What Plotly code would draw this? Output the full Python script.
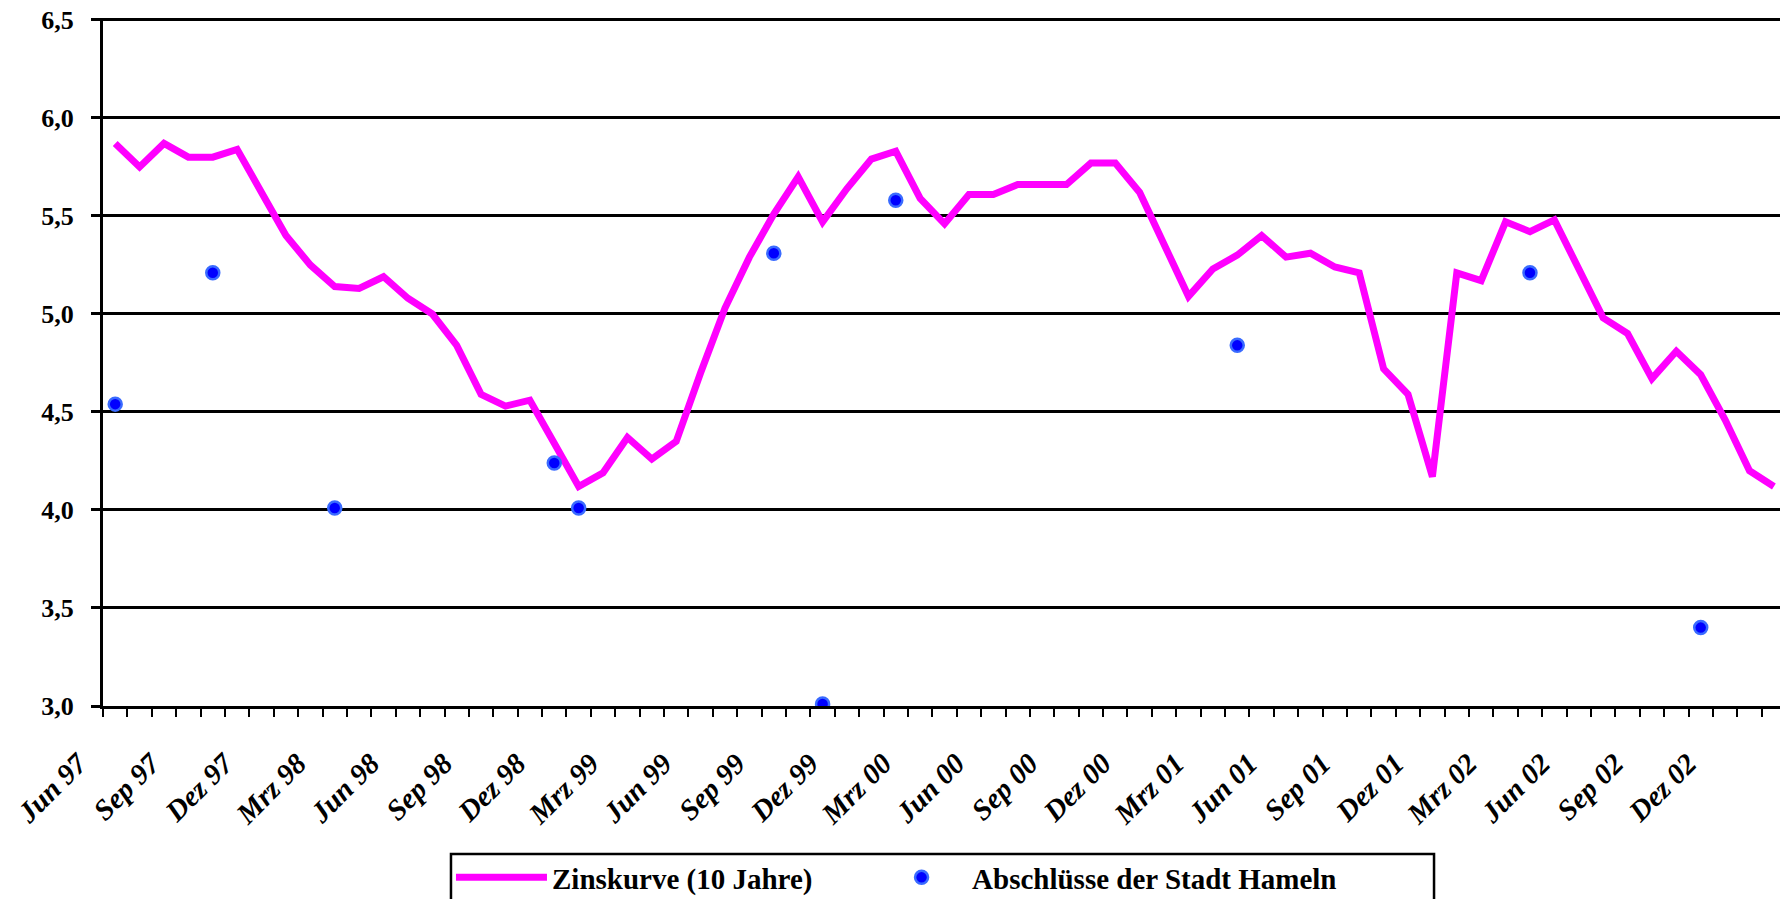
import plotly.graph_objects as go

# Monthly categories Jun 97 .. Feb 03
month_names = ["Jan", "Feb", "Mrz", "Apr", "Mai", "Jun", "Jul", "Aug", "Sep", "Okt", "Nov", "Dez"]
months = []
y, m = 1997, 5
for _ in range(69):
    months.append(f"{month_names[m]} {str(y)[2:]}")
    m += 1
    if m == 12:
        m = 0
        y += 1

# Zinskurve (10 Jahre), one value per month
zins = [5.87, 5.75, 5.87, 5.80, 5.80, 5.84, 5.62, 5.40, 5.25, 5.14,
        5.13, 5.19, 5.08, 5.00, 4.84, 4.59, 4.53, 4.56, 4.34, 4.12,
        4.19, 4.37, 4.26, 4.35, 4.70, 5.03, 5.29, 5.51, 5.70, 5.47,
        5.64, 5.79, 5.83, 5.59, 5.46, 5.61, 5.61, 5.66, 5.66, 5.66,
        5.77, 5.77, 5.62, 5.35, 5.09, 5.23, 5.30, 5.40, 5.29, 5.31,
        5.24, 5.21, 4.72, 4.59, 4.17, 5.21, 5.17, 5.47, 5.42, 5.48,
        5.23, 4.98, 4.90, 4.67, 4.81, 4.69, 4.46, 4.20, 4.12]

# Abschlüsse der Stadt Hameln
abschluss_months = ["Jun 97", "Okt 97", "Mrz 98", "Dez 98", "Jan 99", "Sep 99",
                    "Nov 99", "Feb 00", "Apr 01", "Apr 02", "Nov 02"]
abschluss_values = [4.54, 5.21, 4.01, 4.24, 4.01, 5.31, 3.01, 5.58, 4.84, 5.21, 3.40]

# tick labels every quarter
tick_labels = months[0:67:3]

x_idx = list(range(len(months)))
pos = {name: i for i, name in enumerate(months)}
abs_x = [pos[n] for n in abschluss_months]
tick_x = [pos[n] for n in tick_labels]

FONT = "Liberation Serif, Times New Roman, serif"
LEGEND_FONT = dict(family=FONT, size=29, color="black", weight="bold")

fig = go.Figure()
fig.add_trace(go.Scatter(
    x=x_idx, y=zins, mode="lines", name="Zinskurve (10 Jahre)",
    line=dict(color="#ff00ff", width=7),
    text=months, hovertemplate="%{text}: %{y}<extra></extra>",
    legend="legend",
))
fig.add_trace(go.Scatter(
    x=abs_x, y=abschluss_values, mode="markers", name="Abschlüsse der Stadt Hameln",
    marker=dict(size=13, color="#0000ff", line=dict(color="#3a6bff", width=2.5)),
    text=abschluss_months, hovertemplate="%{text}: %{y}<extra></extra>",
    legend="legend2",
))

# legend frame (bottom edge runs off the page, as in the original)
fig.add_shape(type="rect", xref="paper", yref="paper",
              x0=0.2075, x1=0.7937, y0=-0.2151, y1=-0.40,
              line=dict(color="black", width=2.5), fillcolor="rgba(0,0,0,0)",
              layer="above")

fig.update_layout(
    width=1780, height=899,
    margin=dict(l=103, r=0, t=18, b=193, autoexpand=False),
    paper_bgcolor="white", plot_bgcolor="white",
    separators=",.",
    showlegend=True,
    legend=dict(
        orientation="h", x=0.2075, y=-0.2122, xanchor="left", yanchor="top",
        borderwidth=0, bgcolor="rgba(0,0,0,0)", font=LEGEND_FONT, itemwidth=91,
    ),
    legend2=dict(
        orientation="h", x=0.458, y=-0.2122, xanchor="left", yanchor="top",
        borderwidth=0, bgcolor="rgba(0,0,0,0)", font=LEGEND_FONT, itemwidth=91,
    ),
)
fig.update_xaxes(
    range=[-0.5, 68.25], automargin=False,
    tickmode="array", tickvals=tick_x, ticktext=tick_labels,
    tickangle=-45, ticks="",
    tickfont=dict(family=FONT, size=29, color="black", weight="bold", style="italic"),
    ticklabelshift=-37, ticklabelstandoff=26,
    showgrid=False, zeroline=False,
    showline=True, linecolor="black", linewidth=3,
    minor=dict(ticks="outside", ticklen=8, tickwidth=2, tickcolor="black",
               tick0=-0.5, dtick=1, showgrid=False),
)
fig.update_yaxes(
    range=[3, 6.51], dtick=0.5, tick0=3, tickformat=".1f", automargin=False,
    tickfont=dict(family=FONT, size=26, color="black", weight="bold"),
    ticks="outside", ticklen=9, tickwidth=2.5, tickcolor="black",
    ticklabelstandoff=12, ticklabeloverflow="allow",
    showgrid=True, gridcolor="black", gridwidth=2.5,
    zeroline=False,
    showline=True, linecolor="black", linewidth=3,
)

fig.write_html(
    "out.html",
    config={"displayModeBar": False},
    post_script="document.body.style.margin='0';document.body.style.overflow='hidden';",
)
